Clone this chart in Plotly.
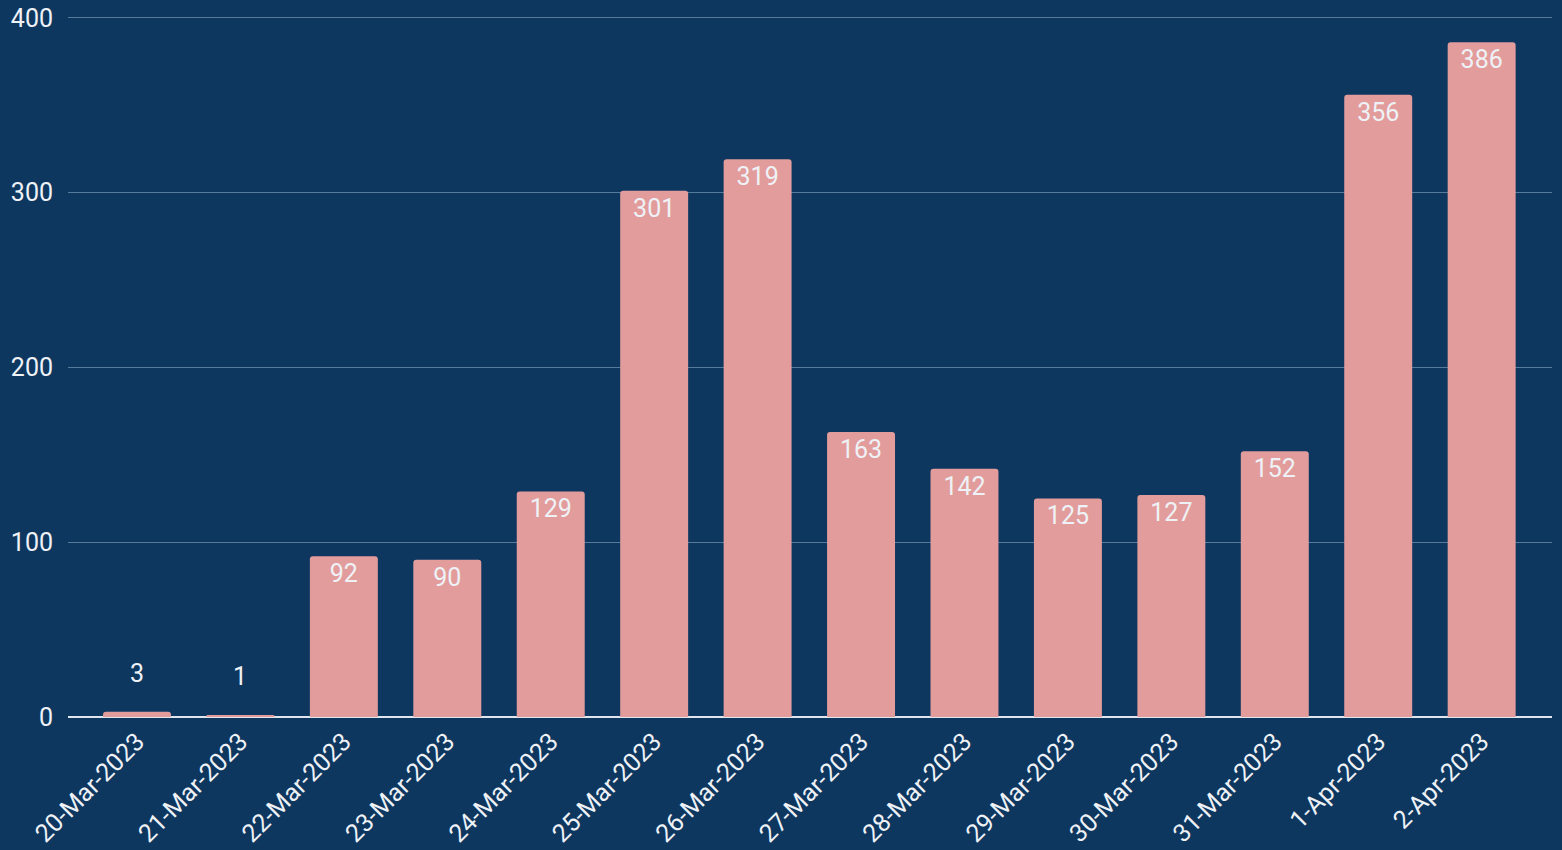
import plotly.graph_objects as go

dates = ["20-Mar-2023", "21-Mar-2023", "22-Mar-2023", "23-Mar-2023", "24-Mar-2023",
         "25-Mar-2023", "26-Mar-2023", "27-Mar-2023", "28-Mar-2023", "29-Mar-2023",
         "30-Mar-2023", "31-Mar-2023", "1-Apr-2023", "2-Apr-2023"]
counts = [3, 1, 92, 90, 129, 301, 319, 163, 142, 125, 127, 152, 356, 386]
y_ticks = [0, 100, 200, 300, 400]

BG = "#0e3760"
BAR = "#e39c9c"
TXT = "#eef2f6"
FS = 25

small = [v < 20 for v in counts]
labels = ["" if s else str(v) for v, s in zip(counts, small)]
positions = ["none" if s else "inside" for s in small]

fig = go.Figure(go.Bar(
    x=dates, y=counts,
    marker=dict(color=BAR, cornerradius=3, line=dict(width=0)),
    text=labels,
    textposition=positions,
    insidetextanchor="end",
    textfont=dict(family="Roboto", size=FS, color=TXT),
    insidetextfont=dict(family="Roboto", size=FS, color=TXT),
    cliponaxis=False,
    width=0.657,
    hoverinfo="x+y",
))

for d, v, s in zip(dates, counts, small):
    if s:
        fig.add_annotation(x=d, y=v, text=str(v), showarrow=False,
                           yanchor="bottom", yshift=22,
                           font=dict(family="Roboto", size=FS, color=TXT))

fig.update_layout(
    width=1562, height=850,
    paper_bgcolor=BG, plot_bgcolor=BG,
    margin=dict(l=68, r=10, t=16, b=133),
    showlegend=False,
    font=dict(family="Roboto", size=FS, color=TXT),
)
fig.update_xaxes(
    type="category", range=[-0.667, 13.68], automargin=False,
    tickangle=-45, showgrid=False, showline=False, zeroline=False,
    tickfont=dict(family="Roboto", size=FS, color=TXT), ticks="",
    ticklabelstandoff=4,
)
fig.update_yaxes(
    range=[0, 401], tickvals=y_ticks, ticktext=[str(v) for v in y_ticks],
    automargin=False,
    showgrid=True, gridcolor="#557a9a", gridwidth=1,
    zeroline=True, zerolinecolor="#dfe6ee", zerolinewidth=2,
    tickfont=dict(family="Roboto", size=FS, color=TXT), ticks="",
    ticklabelstandoff=14,
)

fig.write_html("out.html", config={"displayModeBar": False},
               post_script="document.body.style.margin='0';document.body.style.background='" + BG + "';")
